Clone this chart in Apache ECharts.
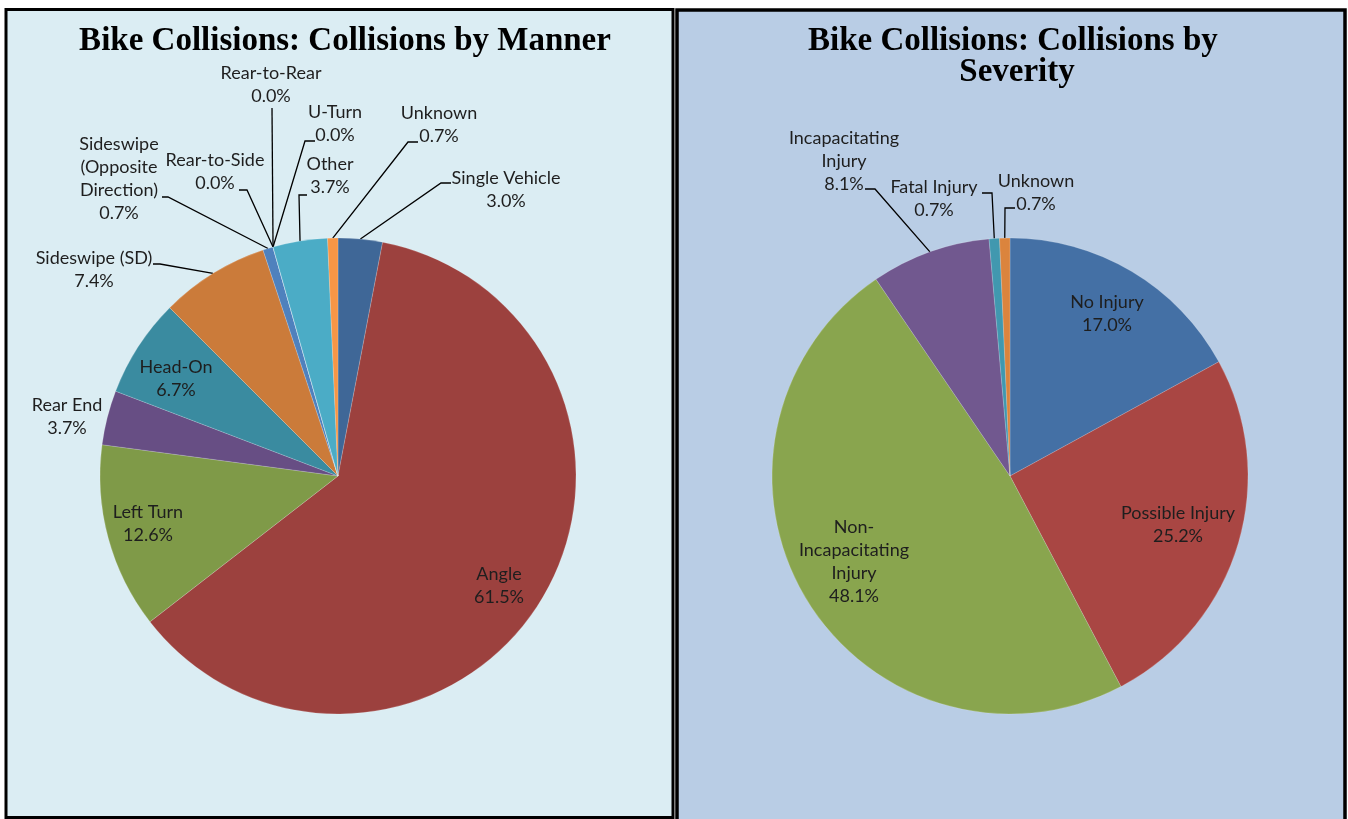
<!DOCTYPE html>
<html><head><meta charset="utf-8">
<script src="https://cdn.jsdelivr.net/npm/echarts@6/dist/echarts.min.js"></script>
<style>html,body{margin:0;padding:0;background:#fff}#c{width:1348px;height:819px}</style>
</head><body><div id="c"></div>
<script>
// ---- DATA ----
const mannerCategories = ['Single Vehicle','Angle','Left Turn','Rear End','Head-On','Sideswipe (SD)','Sideswipe (Opposite Direction)','Rear-to-Side','Rear-to-Rear','U-Turn','Other','Unknown'];
const mannerPercent = [3.0, 61.5, 12.6, 3.7, 6.7, 7.4, 0.7, 0.0, 0.0, 0.0, 3.7, 0.7];
const severityCategories = ['No Injury','Possible Injury','Non-Incapacitating Injury','Incapacitating Injury','Fatal Injury','Unknown'];
const severityPercent = [17.0, 25.2, 48.1, 8.1, 0.7, 0.7];
const titleManner = 'Bike Collisions: Collisions by Manner';
const titleSeverity = 'Bike Collisions: Collisions by Severity';

// ---- STYLE / LAYOUT ----
const mannerColors = ['#3F6797','#9C413E','#7F9A48','#674E84','#3A8BA0','#CB7B3A','#4F81BD','#4F81BD','#4F81BD','#4BACC6','#4BACC6','#F79646'];
const severityColors = ['#4470A5','#A94643','#89A54E','#71588F','#4198AF','#DB843D'];
const mannerWrap = {'Sideswipe (Opposite Direction)':'Sideswipe\n(Opposite\nDirection)'};
const severityWrap = {'Non-Incapacitating Injury':'Non-\nIncapacitating\nInjury','Incapacitating Injury':'Incapacitating\nInjury'};
// label centre, inside flag, leader [elbow, attach]
const mannerLabelLayout = [
  {pos:[506,190], line:[[441,183],[451,183]]},
  {pos:[499,586], inside:true},
  {pos:[148,524], inside:true},
  {pos:[67,417]},
  {pos:[176,379], inside:true},
  {pos:[94,270], line:[[160,264],[153,264]]},
  {pos:[119,179], line:[[168,197],[162,197]]},
  {pos:[215,172], line:[[247,190],[239,190]]},
  {pos:[271,85], line:[[272,108],[272,108]]},
  {pos:[335,124], line:[[305,141],[315,141]]},
  {pos:[330,176], line:[[299,195],[307,195]]},
  {pos:[439,125], line:[[408,142],[418,142]]}
];
const severityLabelLayout = [
  {pos:[1107,314], inside:true},
  {pos:[1178,525], inside:true},
  {pos:[854,562], inside:true},
  {pos:[844,161], line:[[875,189],[865,189]]},
  {pos:[934,199], line:[[992,193],[982,193]]},
  {pos:[1036,193], line:[[1005,208],[1015,208]]}
];

function buildData(cats, vals, colors, lay) {
  return cats.map((c, i) => ({
    name: c, value: vals[i],
    itemStyle: {color: colors[i]},
    label: {position: lay[i].inside ? 'inside' : 'outside'},
    labelLine: {show: !!lay[i].line}
  }));
}
function makeLayout(lay) {
  return function (params) {
    const L = lay[params.dataIndex];
    const out = {x: L.pos[0], y: L.pos[1], align: 'center', verticalAlign: 'middle'};
    if (L.line && params.labelLinePoints) {
      out.labelLinePoints = [params.labelLinePoints[0], L.line[0], L.line[1]];
    }
    return out;
  };
}
function makeFormatter(wrap) {
  return p => (wrap[p.name] || p.name) + '\n' + p.value.toFixed(1) + '%';
}
const labelStyle = {show: true, fontFamily: 'Lato', fontSize: 18, lineHeight: 23, color: '#1e1e1e'};
const titleStyle = {fontFamily: 'Liberation Serif', fontWeight: 'bold', fontSize: 33, color: '#000', lineHeight: 31};

function pieSeries(center, cats, vals, colors, lay, wrap) {
  return {
    type: 'pie', center: center, radius: 238, startAngle: 90, clockwise: true,
    avoidLabelOverlap: false, animation: false, silent: true,
    emphasis: {disabled: true},
    itemStyle: {borderWidth: 0.5, borderColor: 'rgba(255,255,255,0.35)'},
    label: Object.assign({}, labelStyle, {formatter: makeFormatter(wrap)}),
    labelLine: {show: true, length: 10, length2: 10, smooth: false, lineStyle: {color: '#000', width: 1.3}},
    labelLayout: makeLayout(lay),
    data: buildData(cats, vals, colors, lay)
  };
}

const chart = echarts.init(document.getElementById('c'), null, {renderer: 'canvas'});
chart.setOption({
  animation: false,
  backgroundColor: '#ffffff',
  graphic: {elements: [
    {type: 'rect', z: -10, shape: {x: 6, y: 9.5, width: 667, height: 808}, style: {fill: '#DBEDF3', stroke: '#000', lineWidth: 3}},
    {type: 'rect', z: -10, shape: {x: 677, y: 10, width: 668, height: 830}, style: {fill: '#B9CDE5', stroke: '#000', lineWidth: 3.5}}
  ]},
  title: [
    {text: titleManner, left: 340, top: 21, textAlign: 'center', textStyle: titleStyle},
    {text: titleSeverity, left: 1012, top: 21, textAlign: 'center', textStyle: Object.assign({}, titleStyle, {width: 470, overflow: 'break'})}
  ],
  series: [
    pieSeries([338, 476], mannerCategories, mannerPercent, mannerColors, mannerLabelLayout, mannerWrap),
    pieSeries([1010, 476], severityCategories, severityPercent, severityColors, severityLabelLayout, severityWrap)
  ]
});
</script></body></html>
